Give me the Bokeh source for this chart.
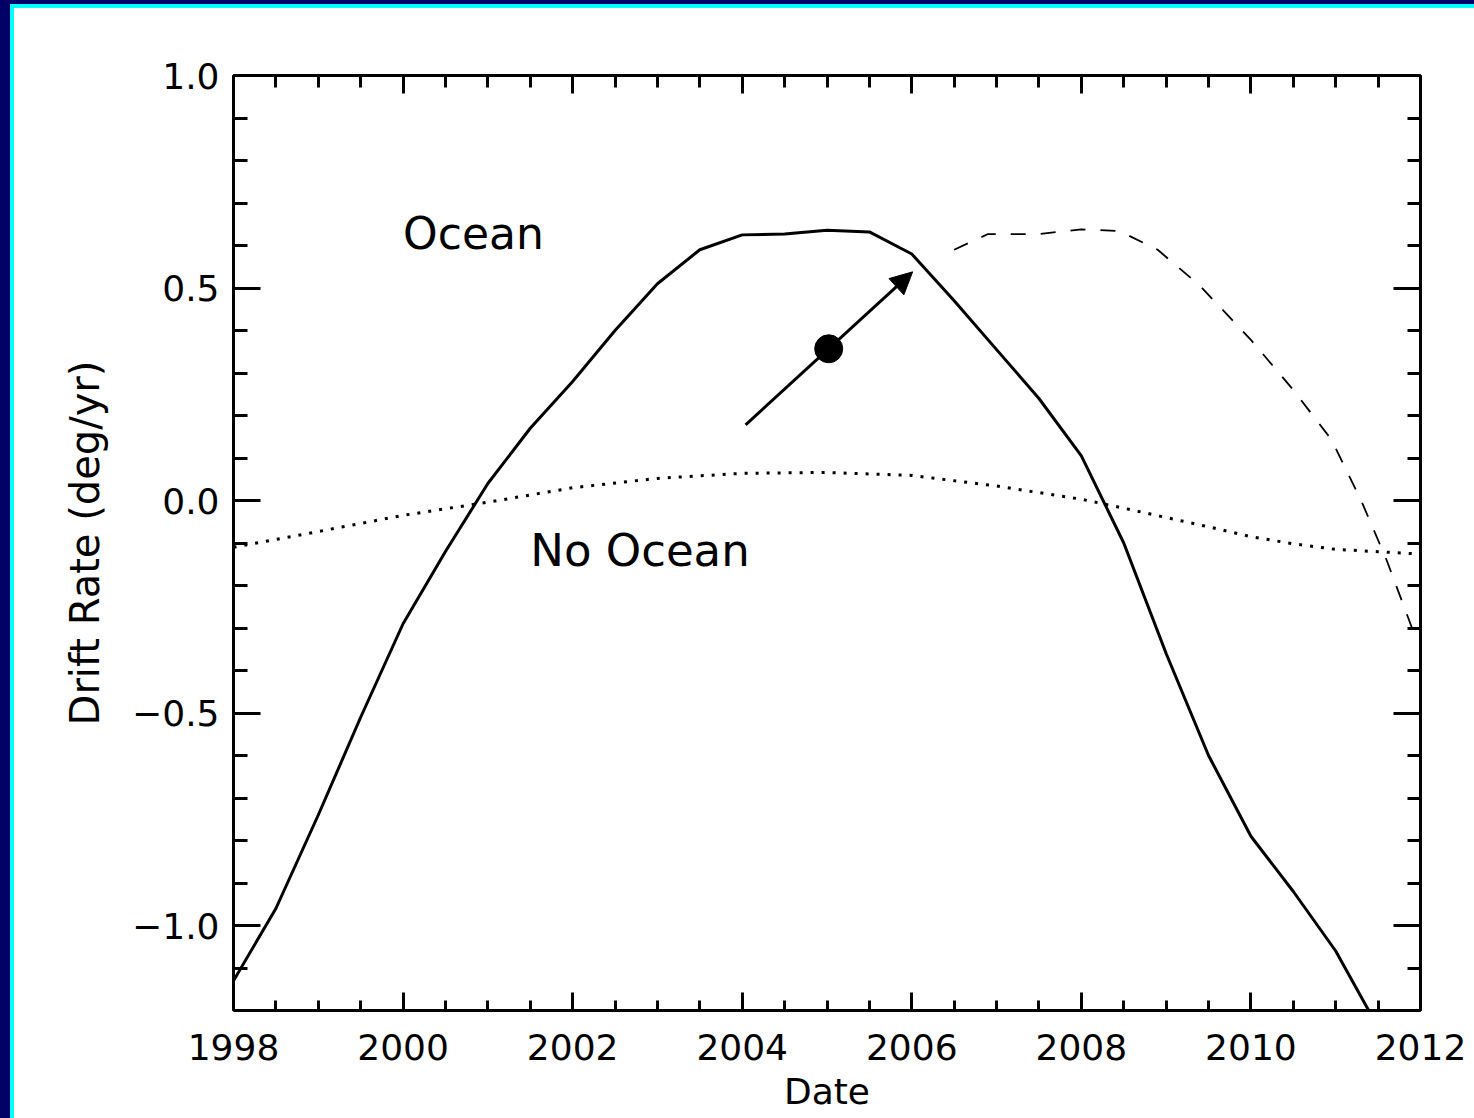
from bokeh.plotting import figure
from bokeh.layouts import column, row
from bokeh.models import (Range1d, FixedTicker, LinearAxis, Arrow, NormalHead,
                          Label, Spacer, CustomLabelingPolicy)
from bokeh.embed import file_html
from bokeh.resources import INLINE

# Drift rate model with ocean (solid)
ocean_year = [1998.0, 1998.5, 1999.0, 1999.5, 2000.0, 2000.5, 2001.0, 2001.5,
              2002.0, 2002.5, 2003.0, 2003.5, 2004.0, 2004.5, 2005.0, 2005.5,
              2006.0, 2006.5, 2007.0, 2007.5, 2008.0, 2008.5, 2009.0, 2009.5,
              2010.0, 2010.5, 2011.0, 2011.5]
ocean_rate = [-1.13, -0.96, -0.74, -0.51, -0.29, -0.12, 0.04, 0.17,
              0.28, 0.40, 0.51, 0.59, 0.625, 0.627, 0.636, 0.632,
              0.58, 0.47, 0.355, 0.24, 0.105, -0.10, -0.36, -0.60,
              -0.79, -0.92, -1.06, -1.24]

# Drift rate without ocean (dotted)
no_ocean_year = [1998.0, 1999.0, 2000.0, 2001.0, 2002.0, 2003.0, 2004.0, 2005.0,
                 2006.0, 2007.0, 2008.0, 2008.5, 2009.0, 2009.5, 2010.0, 2010.5,
                 2011.0, 2012.0]
no_ocean_rate = [-0.11, -0.073, -0.035, -0.004, 0.030, 0.052, 0.064, 0.066,
                 0.059, 0.034, 0.003, -0.018, -0.040, -0.062, -0.085, -0.102,
                 -0.115, -0.126]

# Shifted ocean model (dashed)
shift_year = [2006.5, 2006.9, 2007.5, 2008.0, 2008.45, 2008.9, 2009.4, 2010.0,
              2010.5, 2010.95, 2011.3, 2011.6, 2011.9]
shift_rate = [0.59, 0.627, 0.627, 0.638, 0.634, 0.59, 0.505, 0.378,
              0.26, 0.143, 0.0, -0.14, -0.30]

# Measured drift and its trend arrow
obs_year = [2005.02]
obs_rate = [0.357]
arrow_start = (2004.04, 0.178)
arrow_end = (2006.01, 0.538)

x_major = [1998, 2000, 2002, 2004, 2006, 2008, 2010, 2012]
x_minor = [1998 + 0.5 * i for i in range(29)]
y_major = [-1.0, -0.5, 0.0, 0.5, 1.0]
y_minor = [round(-1.2 + 0.1 * i, 1) for i in range(23)]
y_labels = {-1.0: "\u22121.0", -0.5: "\u22120.5", 0.0: "0.0", 0.5: "0.5", 1.0: "1.0"}

FONT = "DejaVu Sans"
NAVY = "#000066"
CYAN = "#00ffff"

p = figure(width=1460, height=1110, output_backend="svg", toolbar_location=None,
           x_range=Range1d(1998, 2012), y_range=Range1d(-1.2, 1.0),
           x_axis_type=None, y_axis_type=None,
           min_border_left=219, min_border_right=54,
           min_border_top=67, min_border_bottom=108)
p.background_fill_color = "white"
p.border_fill_color = "white"
p.outline_line_color = None
p.xgrid.visible = False
p.ygrid.visible = False

# mirrored axes carry ticks only
no_labels = CustomLabelingPolicy(code="""
    for (const i of [...indices]) indices.unset(i)
    return indices
""")


def style_axis(ax, major_len, minor_len):
    ax.axis_line_width = 3
    ax.axis_line_color = "black"
    ax.major_tick_line_width = 3
    ax.minor_tick_line_width = 3
    ax.major_tick_in = major_len
    ax.major_tick_out = 0
    ax.minor_tick_in = minor_len
    ax.minor_tick_out = 0
    ax.major_label_text_font = FONT
    ax.major_label_text_font_size = "36px"
    ax.major_label_text_color = "black"
    ax.axis_label_text_font = FONT
    ax.axis_label_text_font_size = "36px"
    ax.axis_label_text_font_style = "normal"
    ax.axis_label_text_color = "black"


xt = FixedTicker(ticks=x_major, minor_ticks=x_minor)
yt = FixedTicker(ticks=y_major, minor_ticks=y_minor)

bottom = LinearAxis(ticker=xt, axis_label="Date")
style_axis(bottom, 18, 10)
bottom.major_label_standoff = 23
bottom.axis_label_standoff = 8
p.add_layout(bottom, "below")

top = LinearAxis(ticker=xt)
style_axis(top, 18, 12)
top.major_label_overrides = {t: "" for t in x_major}
top.major_label_policy = no_labels
p.add_layout(top, "above")

left = LinearAxis(ticker=yt, axis_label="Drift Rate (deg/yr)")
style_axis(left, 27, 14)
left.axis_label_text_font_size = "40px"
left.major_label_overrides = y_labels
left.major_label_standoff = 14
left.axis_label_standoff = 21
p.add_layout(left, "left")

right = LinearAxis(ticker=yt)
style_axis(right, 27, 13)
right.major_label_overrides = {t: "" for t in y_major}
right.major_label_policy = no_labels
p.add_layout(right, "right")

p.line(no_ocean_year, no_ocean_rate, line_color="black", line_width=3,
       line_dash="3 8")
p.line(shift_year, shift_rate, line_color="black", line_width=1.8,
       line_dash="15 15")
p.line(ocean_year, ocean_rate, line_color="black", line_width=3)

p.add_layout(Arrow(x_start=arrow_start[0], y_start=arrow_start[1],
                   x_end=arrow_end[0], y_end=arrow_end[1],
                   line_width=3, line_color="black",
                   end=NormalHead(size=22, fill_color="black", line_color="black",
                                  line_width=1)))
p.scatter(obs_year, obs_rate, size=28, marker="circle", fill_color="black",
          line_color="black")

p.add_layout(Label(x=2000.0, y=0.629, text="Ocean", text_font=FONT,
                   text_font_size="44px", text_baseline="middle",
                   text_color="black"))
p.add_layout(Label(x=2001.5, y=-0.117, text="No Ocean", text_font=FONT,
                   text_font_size="45px", text_baseline="middle",
                   text_color="black"))


def band(w, h, color):
    return Spacer(width=w, height=h, styles={"background-color": color})


# Window frame: navy band with a cyan inner rule along the top and left edges
page = column(
    band(1474, 4, NAVY),
    row(band(10, 1114, NAVY),
        column(band(1464, 4, CYAN),
               row(band(4, 1110, CYAN), p, spacing=0),
               spacing=0),
        spacing=0),
    spacing=0)

open("out.html", "w").write(file_html(page, INLINE))
